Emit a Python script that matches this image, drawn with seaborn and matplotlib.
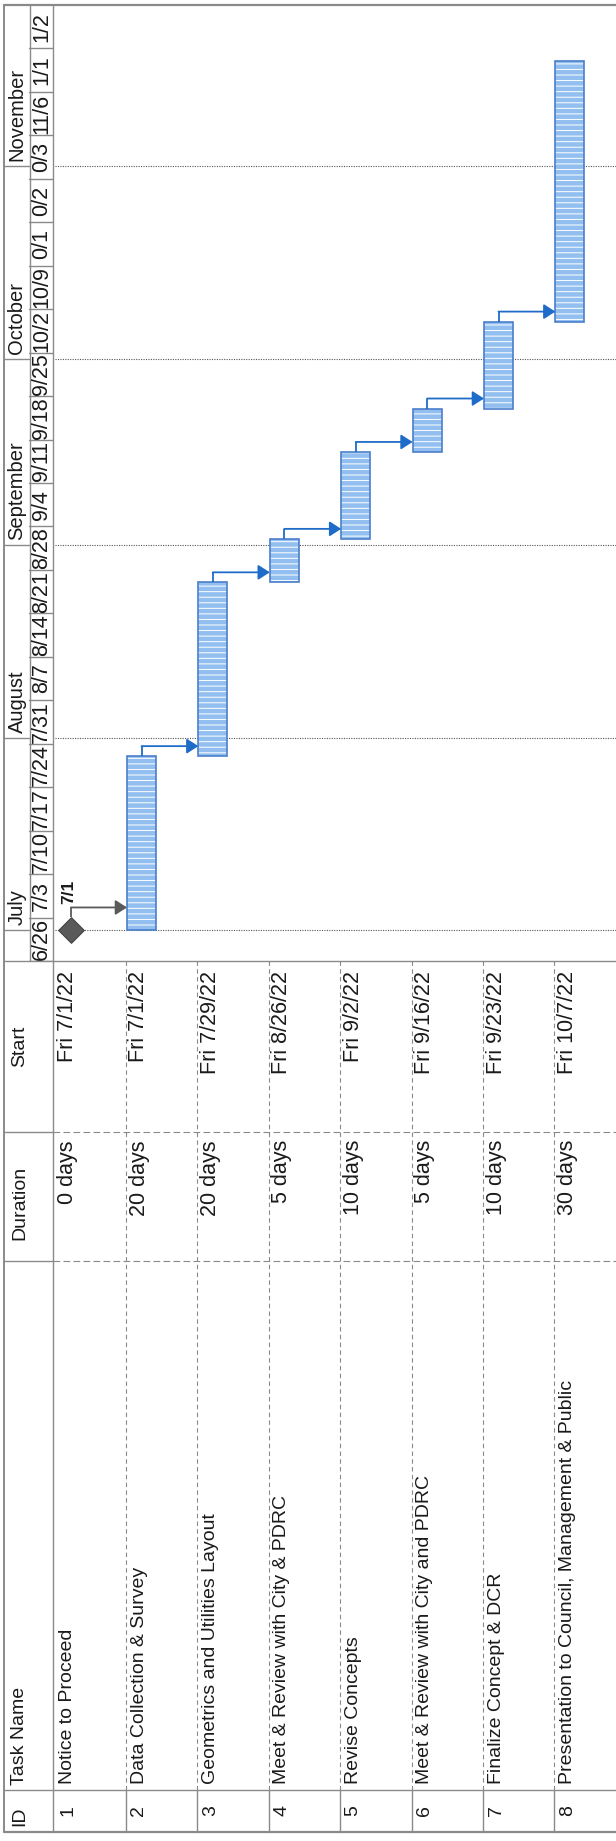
import pandas as pd
import numpy as np
import matplotlib
matplotlib.use("Agg")
import matplotlib.pyplot as plt
from matplotlib.patches import FancyArrowPatch
import seaborn as sns

# Task table
task_ids = [1, 2, 3, 4, 5, 6, 7, 8]
task_names = [
    "Notice to Proceed",
    "Data Collection & Survey",
    "Geometrics and Utilities Layout",
    "Meet & Review with City & PDRC",
    "Revise Concepts",
    "Meet & Review with City and PDRC",
    "Finalize Concept & DCR",
    "Presentation to Council, Management & Public",
]
durations = ["0 days", "20 days", "20 days", "5 days", "10 days", "5 days", "10 days", "30 days"]
start_labels = ["Fri 7/1/22", "Fri 7/1/22", "Fri 7/29/22", "Fri 8/26/22",
                "Fri 9/2/22", "Fri 9/16/22", "Fri 9/23/22", "Fri 10/7/22"]
start_dates = ["2022-07-01", "2022-07-01", "2022-07-29", "2022-08-26",
               "2022-09-02", "2022-09-16", "2022-09-23", "2022-10-07"]
finish_dates = ["2022-07-01", "2022-07-29", "2022-08-26", "2022-09-02",
                "2022-09-16", "2022-09-23", "2022-10-07", "2022-11-18"]
predecessors = [0, 1, 2, 3, 4, 5, 6, 7]  # 0 = none
milestone_label = "7/1"

# Timescale
timeline_start = "2022-06-26"
timeline_end = "2022-11-27"
week_labels = ["6/26", "7/3", "7/10", "7/17", "7/24", "7/31", "8/7", "8/14", "8/21",
               "8/28", "9/4", "9/11", "9/18", "9/25", "10/2", "10/9", "0/1", "0/2",
               "0/3", "11/6", "1/1", "1/2"]
month_labels = ["July", "August", "September", "October", "November"]
month_starts = ["2022-07-01", "2022-08-01", "2022-09-01", "2022-10-01", "2022-11-01"]

# Page layout in pixels (the printout is turned on its side)
W, H = 616, 1841
LEFT, TOP, BOTTOM = 4, 5, 1832
MONTH_SPLIT, STRIP = 29.5, 53
ROW0, ROW_W = 54.6, 71.4
SPLIT = 961            # timescale / table boundary
START_DUR, DUR_NAME, NAME_ID = 1132, 1261, 1790

GRID = "#8a8a8a"
TXT = "#1a1a1a"
BAR_FILL = "#93bff0"
BAR_EDGE = "#4a7fcb"
LINK = "#1f6cc8"
MS_COLOR = "#5a5a5a"

sns.set_theme(style="white")
plt.rcParams["font.family"] = ["Liberation Sans", "DejaVu Sans"]
plt.rcParams["hatch.linewidth"] = 0.7

t0 = pd.Timestamp(timeline_start)


def day(s):
    return (pd.Timestamp(s) - t0).days


def px_rect(x0, y0, x1, y1):
    return [x0 / W, 1 - y1 / H, (x1 - x0) / W, (y1 - y0) / H]


n_days = day(timeline_end)
px_per_day = (SPLIT - TOP) / n_days
starts = np.array([day(d) for d in start_dates], dtype=float)
finishes = np.array([day(d) for d in finish_dates], dtype=float)
rows = np.arange(len(task_ids))
is_ms = finishes == starts
xmax = (W - ROW0) / ROW_W

BAR_OFF = 15.5 / ROW_W
BAR_W = 29 / ROW_W
MS_OFF = 16.4 / ROW_W
TEXT_OFF = 13 / ROW_W

fig = plt.figure(figsize=(W / 100, H / 100), dpi=100)
fig.patch.set_facecolor("white")

# frame / ruling lines
frame = fig.add_axes([0, 0, 1, 1])
frame.set_xlim(0, W)
frame.set_ylim(H, 0)
frame.axis("off")
frame.patch.set_alpha(0)
lw = 1.0
frame.plot([LEFT, LEFT], [TOP, BOTTOM], color=GRID, lw=1.4)
frame.plot([LEFT, W], [TOP, TOP], color=GRID, lw=1.6)
frame.plot([LEFT, W], [BOTTOM, BOTTOM], color=GRID, lw=1.6)
frame.plot([STRIP, STRIP], [TOP, BOTTOM], color=GRID, lw=lw)
frame.plot([MONTH_SPLIT, MONTH_SPLIT], [TOP, SPLIT], color=GRID, lw=lw)
frame.plot([LEFT, W], [SPLIT, SPLIT], color=GRID, lw=lw)
for yb in [START_DUR, DUR_NAME, NAME_ID]:
    frame.plot([LEFT, STRIP], [yb, yb], color=GRID, lw=lw)
frame.plot([STRIP, W], [START_DUR, START_DUR], color=GRID, lw=0.8, ls=(0, (6, 3)))
frame.plot([STRIP, W], [DUR_NAME, DUR_NAME], color=GRID, lw=0.8, ls=(0, (6, 3)))
frame.plot([STRIP, W], [NAME_ID, NAME_ID], color=GRID, lw=lw)
for i in range(1, len(task_ids)):
    xb = ROW0 + ROW_W * i
    frame.plot([xb, xb], [SPLIT, NAME_ID], color=GRID, lw=0.8, ls=(0, (4, 3)))
    frame.plot([xb, xb], [NAME_ID, BOTTOM], color=GRID, lw=lw)

# timescale header
head = fig.add_axes(px_rect(LEFT, TOP, STRIP, SPLIT))
head.set_xlim(LEFT, STRIP)
head.set_ylim(0, n_days)
head.axis("off")
head.patch.set_alpha(0)
week_starts = pd.date_range(timeline_start, timeline_end, freq="7D")
for k, lab in enumerate(week_labels):
    ws = day(week_starts[k])
    head.plot([MONTH_SPLIT, STRIP], [ws, ws], color=GRID, lw=lw)
    head.text(41.5, ws + 3.5, lab, rotation=90, ha="center", va="center",
              size=15.5, color=TXT, clip_on=True)
for lab, ms in zip(month_labels, month_starts):
    d = day(ms)
    head.plot([LEFT, MONTH_SPLIT], [d, d], color=GRID, lw=lw)
    head.text(17, d + 5 / px_per_day, lab, rotation=90, ha="center", va="bottom",
              size=14.5, color=TXT, clip_on=True)

# gantt body
ax = fig.add_axes(px_rect(ROW0, TOP, W, SPLIT))
ax.set_xlim(0, xmax)
ax.set_ylim(0, n_days)
ax.axis("off")
ax.patch.set_alpha(0)
for ms in month_starts:
    ax.axhline(day(ms), color="#555555", lw=0.8, ls=(0, (1, 1.2)), zorder=1)

bx = rows[~is_ms] + BAR_OFF
ax.bar(bx, (finishes - starts)[~is_ms], bottom=starts[~is_ms], width=BAR_W,
       color=BAR_FILL, edgecolor="white", linewidth=0, hatch="---", zorder=2)
ax.bar(bx, (finishes - starts)[~is_ms], bottom=starts[~is_ms], width=BAR_W,
       fill=False, edgecolor=BAR_EDGE, linewidth=1.2, zorder=3)

ms_df = pd.DataFrame({"x": rows[is_ms] + MS_OFF, "y": starts[is_ms]})
sns.scatterplot(data=ms_df, x="x", y="y", marker="D", s=170, color=MS_COLOR,
                edgecolor="#444444", linewidth=0.8, ax=ax, zorder=4, legend=False)
ax.set_xlim(0, xmax)
ax.set_ylim(0, n_days)
ax.axis("off")
for xm, ym in zip(ms_df["x"], ms_df["y"]):
    ax.text(xm - 2 / ROW_W, ym + 26 / px_per_day, milestone_label, rotation=90, ha="center",
            va="bottom", size=12.5, weight="bold", color=TXT)

ms_half = 12.5 / px_per_day
rise = 10 / px_per_day
for i, p in enumerate(predecessors):
    if p == 0:
        continue
    j = p - 1
    if is_ms[j]:
        x0, y0, col = rows[j] + MS_OFF, finishes[j] + ms_half, MS_COLOR
    else:
        x0, y0, col = rows[j] + BAR_OFF, finishes[j], LINK
    y1 = y0 + rise
    x1 = rows[i] + BAR_OFF - BAR_W / 2
    ax.plot([x0, x0], [y0, y1], color=col, lw=1.3, zorder=3, solid_capstyle="butt")
    arr = FancyArrowPatch((x0, y1), (x1, y1), arrowstyle="-|>,head_length=7,head_width=4.5",
                          mutation_scale=1, color=col, lw=1.3, shrinkA=0, shrinkB=0, zorder=3)
    ax.add_patch(arr)

# table header strip
th = fig.add_axes(px_rect(LEFT, SPLIT, STRIP, BOTTOM))
th.set_xlim(LEFT, STRIP)
th.set_ylim(BOTTOM, SPLIT)
th.axis("off")
th.patch.set_alpha(0)
th.text(20, (SPLIT + START_DUR) / 2, "Start", rotation=90, ha="center", va="center", size=14, color=TXT)
th.text(20, (START_DUR + DUR_NAME) / 2 + 6, "Duration", rotation=90, ha="center", va="center", size=14, color=TXT)
th.text(20, NAME_ID - 5, "Task Name", rotation=90, ha="center", va="bottom", size=14, color=TXT)
th.text(20, BOTTOM - 6, "ID", rotation=90, ha="center", va="bottom", size=14, color=TXT)

# table body
tb = fig.add_axes(px_rect(ROW0, SPLIT, W, BOTTOM))
tb.set_xlim(0, xmax)
tb.set_ylim(BOTTOM, SPLIT)
tb.axis("off")
tb.patch.set_alpha(0)
for i in rows:
    xc = i + TEXT_OFF
    tb.text(xc, SPLIT + 10, start_labels[i], rotation=90, ha="center", va="top", size=15.5, color=TXT)
    tb.text(xc, START_DUR + 8, durations[i], rotation=90, ha="center", va="top", size=15.5, color=TXT)
    tb.text(xc, NAME_ID - 6, task_names[i], rotation=90, ha="center", va="bottom", size=14, color=TXT)
    tb.text(xc, (NAME_ID + BOTTOM) / 2, str(task_ids[i]), rotation=90, ha="center", va="center",
            size=14, color=TXT)

fig.savefig("out.png", dpi=100)
